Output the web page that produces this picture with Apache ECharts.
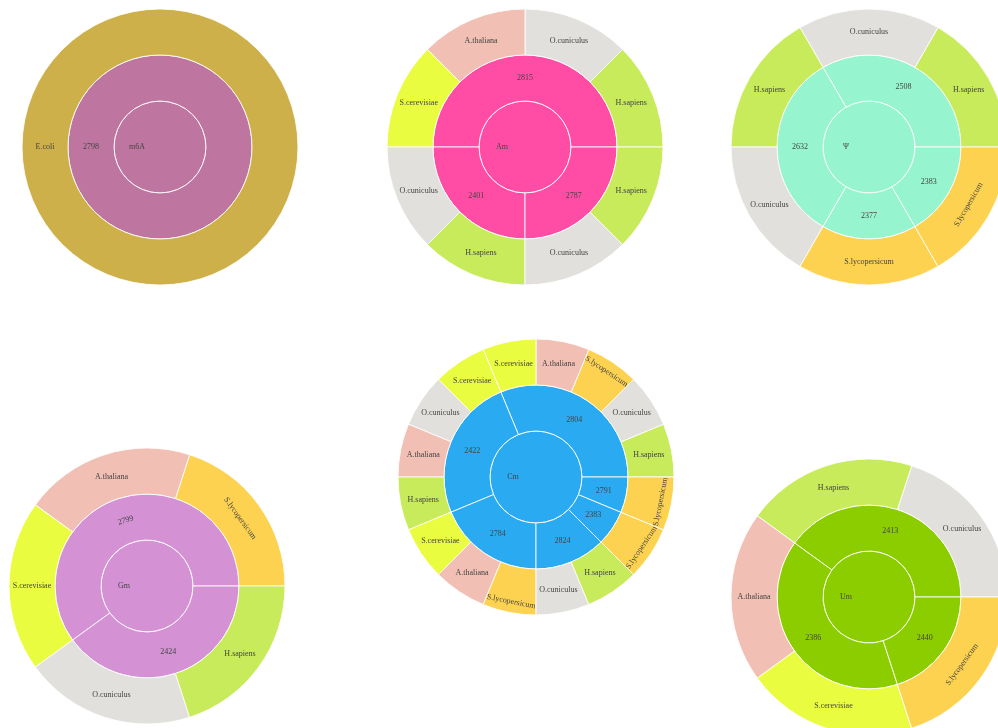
<!DOCTYPE html>
<html>
<head>
<meta charset="utf-8">
<script src="https://cdn.jsdelivr.net/npm/echarts@6/dist/echarts.min.js"></script>
<style>
  html, body { margin: 0; padding: 0; background: #ffffff; }
  #main { width: 998px; height: 728px; }
</style>
</head>
<body>
<div id="main"></div>
<script>
// Modifications shown at the centre of each sunburst
const modifications = ['m6A', 'Am', 'Ψ', 'Gm', 'Cm', 'Um'];

// Middle ring: sequence ids per modification
const m6aIds = ['2798'];
const amIds  = ['2815', '2401', '2787'];
const psiIds = ['2508', '2632', '2377', '2383'];
const gmIds  = ['2799', '2424'];
const cmIds  = ['2804', '2422', '2784', '2824', '2383', '2791'];
const umIds  = ['2413', '2386', '2440'];

// Outer ring: species under each id (each species entry counts once)
const m6aSpecies = [['E.coli']];
const amSpecies = [
  ['H.sapiens', 'O.cuniculus', 'A.thaliana', 'S.cerevisiae'],
  ['O.cuniculus', 'H.sapiens'],
  ['O.cuniculus', 'H.sapiens']
];
const psiSpecies = [
  ['H.sapiens', 'O.cuniculus'],
  ['H.sapiens', 'O.cuniculus'],
  ['S.lycopersicum'],
  ['S.lycopersicum']
];
const gmSpecies = [
  ['S.lycopersicum', 'A.thaliana', 'S.cerevisiae'],
  ['O.cuniculus', 'H.sapiens']
];
const cmSpecies = [
  ['H.sapiens', 'O.cuniculus', 'S.lycopersicum', 'A.thaliana', 'S.cerevisiae'],
  ['S.cerevisiae', 'O.cuniculus', 'A.thaliana', 'H.sapiens'],
  ['S.cerevisiae', 'A.thaliana', 'S.lycopersicum'],
  ['O.cuniculus', 'H.sapiens'],
  ['S.lycopersicum'],
  ['S.lycopersicum']
];
const umSpecies = [
  ['O.cuniculus', 'H.sapiens'],
  ['A.thaliana', 'S.cerevisiae'],
  ['S.lycopersicum']
];
const speciesCount = 1;

const allIds = [m6aIds, amIds, psiIds, gmIds, cmIds, umIds];
const allSpecies = [m6aSpecies, amSpecies, psiSpecies, gmSpecies, cmSpecies, umSpecies];

// ---- styling ----
const modColors = ['#BE76A0', '#FF4DA6', '#96F5CE', '#D492D4', '#2AAAF0', '#8CCD00'];
const speciesColors = {
  'E.coli': '#CEB04A',
  'H.sapiens': '#C7EB5A',
  'O.cuniculus': '#E2E0DC',
  'A.thaliana': '#F1BFB3',
  'S.cerevisiae': '#E9FC40',
  'S.lycopersicum': '#FCD250'
};
// labels that follow the arc instead of staying horizontal
const tangentialLabels = ['S.lycopersicum', '2799'];
// charts whose rotated outer labels sit close to the rim (narrow wedges)
const rimLabelCharts = ['Cm'];
const rimPadding = 8;
const centers = [[160, 147], [525, 147], [869, 147], [147, 586], [536, 477], [869, 597]];
const R = 138;

function buildSeries(k) {
  const ids = allIds[k];
  const species = allSpecies[k];
  const totalLeaves = species.reduce(function (s, g) { return s + g.length; }, 0);
  const rimLabels = rimLabelCharts.indexOf(modifications[k]) >= 0;
  let leafIndex = 0;
  const children = ids.map(function (id, i) {
    const node = {
      name: id,
      itemStyle: { color: modColors[k] },
      children: species[i].map(function (sp) {
        const leaf = {
          name: sp,
          value: speciesCount,
          itemStyle: { color: speciesColors[sp] }
        };
        if (tangentialLabels.indexOf(sp) >= 0) {
          leaf.label = { rotate: 'tangential' };
          if (rimLabels) {
            // push the label outward: upper half text "up" points outward, lower half inward
            const mid = (leafIndex + 0.5) / totalLeaves * 360;
            const upper = mid < 180;
            leaf.label.verticalAlign = upper ? 'bottom' : 'top';
            leaf.label.padding = upper ? [0, 0, rimPadding, 0] : [rimPadding, 0, 0, 0];
          }
        }
        leafIndex++;
        return leaf;
      })
    };
    if (tangentialLabels.indexOf(id) >= 0) node.label = { rotate: 'tangential' };
    return node;
  });
  return {
    type: 'sunburst',
    center: centers[k],
    radius: [0, R],
    sort: null,
    clockwise: false,
    startAngle: 0,
    nodeClick: false,
    emphasis: { focus: 'none' },
    levels: [
      {},
      { r0: 0, r: R / 3 },
      { r0: R / 3, r: 2 * R / 3 },
      { r0: 2 * R / 3, r: R }
    ],
    itemStyle: { borderColor: 'rgba(255,255,255,0.85)', borderWidth: 1 },
    label: {
      rotate: 0,
      color: '#444',
      fontFamily: 'Liberation Serif',
      fontSize: 8
    },
    data: [{
      name: modifications[k],
      itemStyle: { color: modColors[k] },
      children: children
    }]
  };
}

const chart = echarts.init(document.getElementById('main'), null, { renderer: 'canvas' });
chart.setOption({
  backgroundColor: '#ffffff',
  animation: false,
  series: modifications.map(function (_, k) { return buildSeries(k); })
});
</script>
</body>
</html>
